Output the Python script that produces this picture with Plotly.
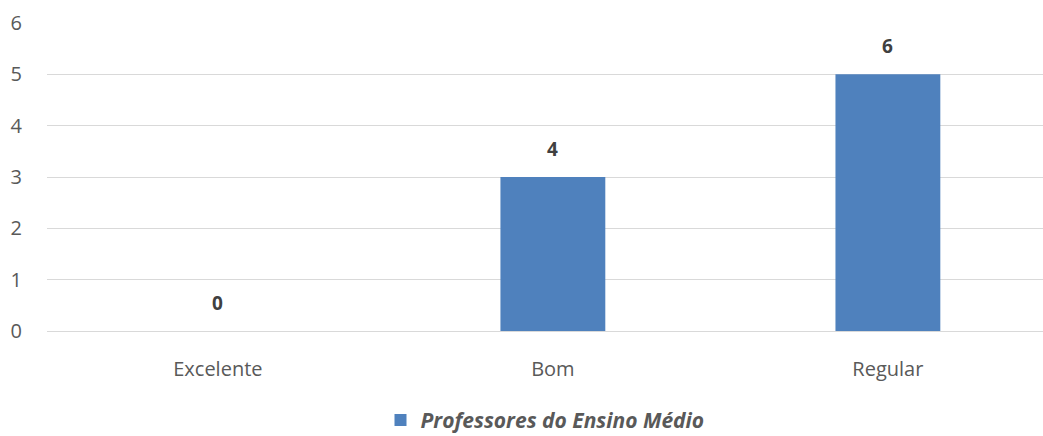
import plotly.graph_objects as go

categories = ["Excelente", "Bom", "Regular"]
bar_values = [0, 3, 5]
label_texts = ["0", "4", "6"]
series_name = "Professores do Ensino Médio"
y_ticks = [0, 1, 2, 3, 4, 5, 6]

FONT = "Open Sans"

fig = go.Figure()
fig.add_trace(go.Bar(
    x=categories, y=bar_values, name="<b><i>%s</i></b>" % series_name,
    marker=dict(color="#4f81bd", line=dict(width=0)),
    width=0.313, showlegend=True,
))

for c, v, t in zip(categories, bar_values, label_texts):
    fig.add_annotation(x=c, y=v, text="<b>%s</b>" % t, showarrow=False,
                       yanchor="bottom", yshift=13,
                       font=dict(family=FONT, size=19, color="#404040"))

fig.update_layout(
    width=1043, height=436,
    margin=dict(l=47, r=0, t=23, b=105, autoexpand=False),
    paper_bgcolor="white", plot_bgcolor="white",
    font=dict(family=FONT, color="#595959"),
    xaxis=dict(range=[-0.51, 2.463], showgrid=False, showline=False,
               ticks="", tickfont=dict(family=FONT, size=20, color="#595959"),
               ticklabelstandoff=24),
    yaxis=dict(range=[0, 6], tickvals=y_ticks, showgrid=True,
               gridcolor="#d9d9d9", gridwidth=1.3, zeroline=True,
               zerolinecolor="#d9d9d9", zerolinewidth=1.3,
               showline=False, ticks="",
               tickfont=dict(family=FONT, size=20, color="#595959"),
               ticklabelstandoff=24),
    legend=dict(orientation="h", x=0.5, xanchor="center", y=-0.29,
                yanchor="middle", borderwidth=0,
                font=dict(family=FONT, size=21, color="#595959"),
                itemwidth=30),
)

fig.write_html("out.html")
